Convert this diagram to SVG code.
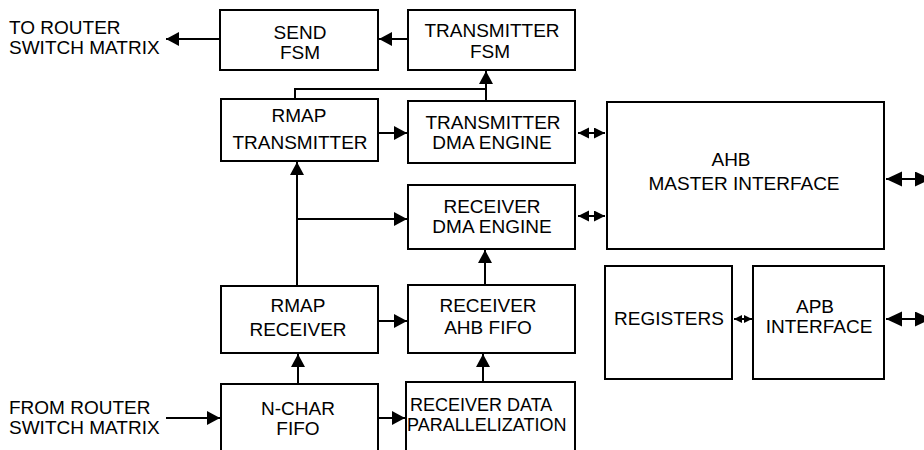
<svg xmlns="http://www.w3.org/2000/svg" width="924" height="450" viewBox="0 0 924 450">
<style>
.box{fill:#fff;stroke:#000;stroke-width:2}
.t{font-family:"Liberation Sans",Arial,sans-serif;font-size:19px;fill:#000;text-anchor:middle}
.l{text-anchor:start}
.c{fill:none;stroke:#000;stroke-width:2}
.a{marker-end:url(#ah)}
.d{marker-start:url(#dh);marker-end:url(#dh)}
.D{marker-start:url(#Dh);marker-end:url(#Dh)}
.s{marker-start:url(#sh);marker-end:url(#sh)}
</style>
<defs>
<marker id="ah" markerUnits="userSpaceOnUse" markerWidth="14" markerHeight="14" refX="13" refY="7" orient="auto"><path d="M0,0 L13,7 L0,14 z" fill="#000"/></marker>
<marker id="dh" markerUnits="userSpaceOnUse" markerWidth="12" markerHeight="12" refX="11" refY="5.5" orient="auto-start-reverse"><path d="M0,0 L11,5.5 L0,11 z" fill="#000"/></marker>
<marker id="Dh" markerUnits="userSpaceOnUse" markerWidth="17" markerHeight="16" refX="16" refY="7.5" orient="auto-start-reverse"><path d="M0,0 L16,7.5 L0,15 z" fill="#000"/></marker>
<marker id="sh" markerUnits="userSpaceOnUse" markerWidth="9" markerHeight="9" refX="8" refY="4" orient="auto-start-reverse"><path d="M0,0 L8,4 L0,8 z" fill="#000"/></marker>
</defs>
<g id="connectors">
<path class="c a" d="M408,39 H379"/>
<path class="c a" d="M220,39 H166"/>
<path class="c" d="M295,99 V89 H486"/>
<path class="c a" d="M486,101 V71"/>
<path class="c a" d="M378,133 H407"/>
<path class="c a" d="M297,286 V162"/>
<path class="c a" d="M297,219 H407"/>
<path class="c a" d="M485,285 V250"/>
<path class="c a" d="M378,321 H407"/>
<path class="c a" d="M298,384 V354"/>
<path class="c a" d="M483,382 V354"/>
<path class="c a" d="M378,418 H405"/>
<path class="c a" d="M166,418 H220"/>
<path class="c d" d="M578,133 H605"/>
<path class="c d" d="M578,216 H605"/>
<path class="c D" d="M886,179 H931"/>
<path class="c s" d="M734,319 H752"/>
<path class="c D" d="M886,319 H931"/>
</g>
<g id="to-router">
<text class="t l" x="9" y="34">TO ROUTER</text>
<text class="t l" x="9" y="54">SWITCH MATRIX</text>
</g>
<g id="from-router">
<text class="t l" x="9" y="414">FROM ROUTER</text>
<text class="t l" x="9" y="434">SWITCH MATRIX</text>
</g>
<g id="send-fsm">
<rect class="box" x="220" y="10" width="158" height="60"/>
<text class="t" x="300" y="39">SEND</text>
<text class="t" x="300" y="59">FSM</text>
</g>
<g id="transmitter-fsm">
<rect class="box" x="408" y="10" width="167" height="60"/>
<text class="t" x="492" y="37">TRANSMITTER</text>
<text class="t" x="490" y="58">FSM</text>
</g>
<g id="rmap-transmitter">
<rect class="box" x="221" y="99" width="157" height="62"/>
<text class="t" x="299" y="122">RMAP</text>
<text class="t" x="300" y="149">TRANSMITTER</text>
</g>
<g id="transmitter-dma">
<rect class="box" x="408" y="101" width="167" height="62"/>
<text class="t" x="493" y="129">TRANSMITTER</text>
<text class="t" x="492" y="149">DMA ENGINE</text>
</g>
<g id="receiver-dma">
<rect class="box" x="408" y="185" width="167" height="64"/>
<text class="t" x="492" y="213">RECEIVER</text>
<text class="t" x="492" y="233">DMA ENGINE</text>
</g>
<g id="rmap-receiver">
<rect class="box" x="221" y="286" width="157" height="67"/>
<text class="t" x="298" y="312">RMAP</text>
<text class="t" x="298" y="336">RECEIVER</text>
</g>
<g id="receiver-ahb-fifo">
<rect class="box" x="408" y="285" width="167" height="68"/>
<text class="t" x="488" y="312">RECEIVER</text>
<text class="t" x="488" y="334">AHB FIFO</text>
</g>
<g id="n-char-fifo">
<rect class="box" x="221" y="384" width="157" height="80"/>
<text class="t" x="298" y="415">N-CHAR</text>
<text class="t" x="298" y="435">FIFO</text>
</g>
<g id="receiver-data-par">
<rect class="box" x="406" y="382" width="169" height="82"/>
<text class="t l" x="410" y="411" style="font-size:18px">RECEIVER DATA</text>
<text class="t l" x="407" y="431" style="font-size:18px">PARALLELIZATION</text>
</g>
<g id="ahb-master">
<rect class="box" x="607" y="102" width="277" height="147"/>
<text class="t" x="731" y="166">AHB</text>
<text class="t" x="744" y="190">MASTER INTERFACE</text>
</g>
<g id="registers">
<rect class="box" x="605" y="266" width="127" height="113"/>
<text class="t" x="669" y="325">REGISTERS</text>
</g>
<g id="apb-interface">
<rect class="box" x="753" y="266" width="131" height="113"/>
<text class="t" x="815" y="313">APB</text>
<text class="t" x="819" y="333">INTERFACE</text>
</g>
</svg>
